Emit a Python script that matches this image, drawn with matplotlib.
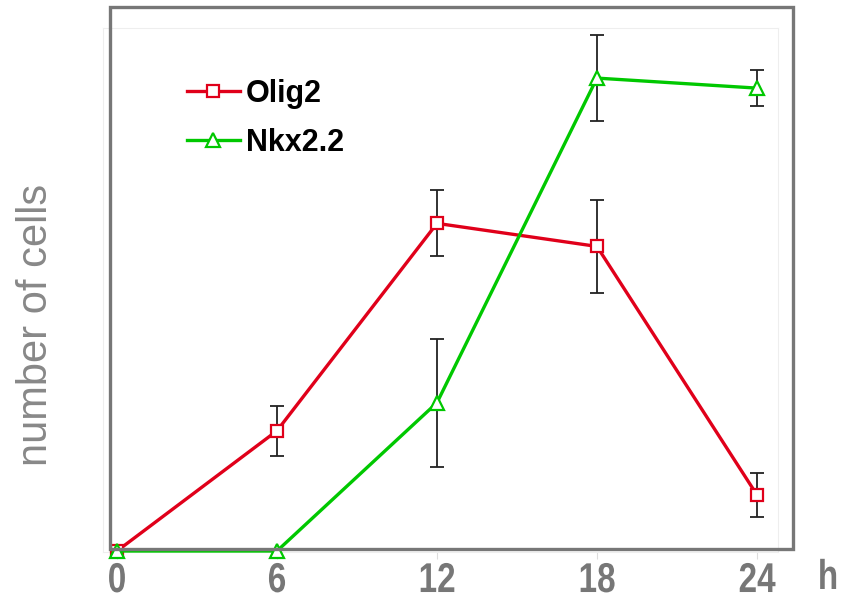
import matplotlib
matplotlib.use("Agg")
import matplotlib.pyplot as plt
from matplotlib.patches import Rectangle
from matplotlib.patheffects import AbstractPathEffect
from matplotlib.transforms import Affine2D

hours = [0, 6, 12, 18, 24]
tick_labels = ["0", "6", "12", "18", "24"]

olig2 = [0, 120, 327, 304, 56]
olig2_err = [0, 25, 33, 46, 22]

nkx22 = [0, 0, 148, 472, 462]
nkx22_err = [0, 0, 64, 43, 18]

red = "#e0001a"
green = "#00c800"
gray = "#777777"


class Narrow(AbstractPathEffect):
    """squeeze text horizontally around its centre (no narrow font here)"""

    def __init__(self, factor=0.8):
        super().__init__()
        self.factor = factor

    def draw_path(self, renderer, gc, tpath, affine, rgbFace=None):
        ext = tpath.get_extents()
        cx = (ext.x0 + ext.x1) / 2
        squeeze = Affine2D().translate(-cx, 0).scale(self.factor, 1).translate(cx, 0)
        renderer.draw_path(gc, tpath, squeeze + affine, rgbFace)


fig = plt.figure(figsize=(8.42, 6), dpi=100)
ax = fig.add_axes([103 / 842, 1 - 552 / 600, 675 / 842, 524 / 600])

# error bars (only where there is an error)
for x, y, e in zip(hours, olig2, olig2_err):
    if e:
        ax.errorbar(x, y, yerr=e, fmt="none", ecolor="#222222", elinewidth=1.3,
                    capsize=5, capthick=1.3, zorder=4)
for x, y, e in zip(hours, nkx22, nkx22_err):
    if e:
        ax.errorbar(x, y, yerr=e, fmt="none", ecolor="#222222", elinewidth=1.3,
                    capsize=5, capthick=1.3, zorder=4)

ax.plot(hours, olig2, color=red, lw=2.4, marker="s", ms=9, mfc="white",
        mec=red, mew=1.6, label="Olig2", clip_on=False, zorder=5)
ax.plot(hours, nkx22, color=green, lw=2.4, marker="^", ms=10, mfc="white",
        mec=green, mew=1.6, label="Nkx2.2", clip_on=False, zorder=5)

ax.set_xlim(-0.525, 24.79)
ax.set_ylim(-1, 522)
ax.set_xticks(hours)
ax.set_xticklabels(tick_labels)
ax.set_yticks([])
for lab in ax.get_xticklabels():
    lab.set_family("Liberation Sans")
    lab.set_fontweight("bold")
    lab.set_fontsize(30)
    lab.set_color(gray)
    lab.set_path_effects([Narrow(0.8)])
ax.tick_params(axis="x", length=5, color="#dddddd", pad=1.5)
for s in ax.spines.values():
    s.set_color("#eeeeee")
    s.set_linewidth(0.8)

leg = ax.legend(loc="upper left", bbox_to_anchor=(0.083, 0.955), frameon=False,
                prop={"family": "Liberation Sans", "weight": "bold", "size": 22},
                handlelength=1.75, handletextpad=0.2, labelspacing=0.62)

# outer gray box
fig.patches.append(Rectangle((110 / 842, 1 - 549 / 600), 683 / 842, 542 / 600,
                             transform=fig.transFigure, fill=False,
                             edgecolor=gray, lw=2.4, zorder=3))

h = fig.text(828 / 842, 1 - 578 / 600, "h", family="Liberation Sans",
             fontweight="bold", fontsize=30, color=gray, ha="center", va="center")
h.set_path_effects([Narrow(0.8)])
fig.text(36 / 842, 1 - 325 / 600, "number of cells", family="Liberation Sans",
         fontsize=30, color="#888888", rotation=90, ha="center", va="center")

fig.savefig("out.png", dpi=100)
